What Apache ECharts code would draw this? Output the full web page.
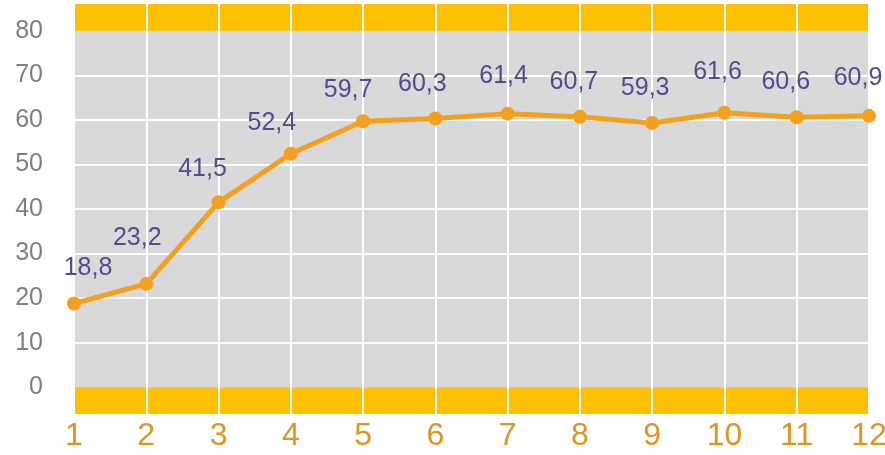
<!DOCTYPE html>
<html><head><meta charset="utf-8">
<script src="https://cdn.jsdelivr.net/npm/echarts@6/dist/echarts.min.js"></script>
<style>html,body{margin:0;padding:0;background:#fff}#c{width:885px;height:455px}</style>
</head><body><div id="c"></div>
<script>
const categories = ['1','2','3','4','5','6','7','8','9','10','11','12'];
const values = [18.8, 23.2, 41.5, 52.4, 59.7, 60.3, 61.4, 60.7, 59.3, 61.6, 60.6, 60.9];
const yTickLabels = [0, 10, 20, 30, 40, 50, 60, 70, 80];
const gridLineValues = [10, 20, 30, 40, 50, 60, 70];
const labelOffsets = [[14,-35],[-9,-46],[-16,-33],[-19,-31],[-15,-31],[-13,-34],[-4,-38],[-6,-35],[-7,-35],[-7,-41],[-11,-35],[-11,-38]];

const chart = echarts.init(document.getElementById('c'));
const FONT = 'Liberation Sans';
chart.setOption({
  animation: false,
  grid: { left: 74, right: 16, top: 4, bottom: 41, show: true, backgroundColor: '#D9D9D9', borderWidth: 0, outerBoundsMode: 'none', containLabel: false },
  xAxis: {
    type: 'category', data: categories, boundaryGap: false, z: 2,
    axisLine: { show: false }, axisTick: { show: false },
    axisLabel: { color: '#DF951F', fontSize: 32, fontFamily: FONT, margin: 6 },
    splitLine: { show: true, lineStyle: { color: '#FFFFFF', width: 2 } }
  },
  yAxis: {
    type: 'value', min: -6, max: 86, z: 2,
    axisLine: { show: false }, axisTick: { show: false },
    splitLine: { show: false },
    axisLabel: { customValues: yTickLabels, color: '#7F7F7F', fontSize: 25, fontFamily: FONT, margin: 31 }
  },
  series: [
    {
      type: 'line', data: [], z: 1, silent: true,
      markArea: {
        silent: true,
        itemStyle: { color: '#FFC000' },
        data: [
          [{ yAxis: -6 }, { yAxis: 0 }],
          [{ yAxis: 80 }, { yAxis: 86 }]
        ]
      },
      markLine: {
        silent: true, symbol: 'none',
        label: { show: false },
        lineStyle: { color: '#FFFFFF', width: 2, type: 'solid' },
        data: gridLineValues.map(v => ({ yAxis: v }))
      }
    },
    {
      type: 'line', z: 5,
      data: values.map((v, i) => ({
        value: v,
        label: { offset: labelOffsets[i] }
      })),
      symbol: 'circle', symbolSize: 14,
      lineStyle: { color: '#F3A01E', width: 5 },
      itemStyle: { color: '#F3A01E' },
      label: {
        show: true, position: 'inside',
        color: '#4E4E8C', fontSize: 25, fontFamily: FONT,
        formatter: p => String(p.value).replace('.', ',')
      }
    }
  ]
});
</script></body></html>
